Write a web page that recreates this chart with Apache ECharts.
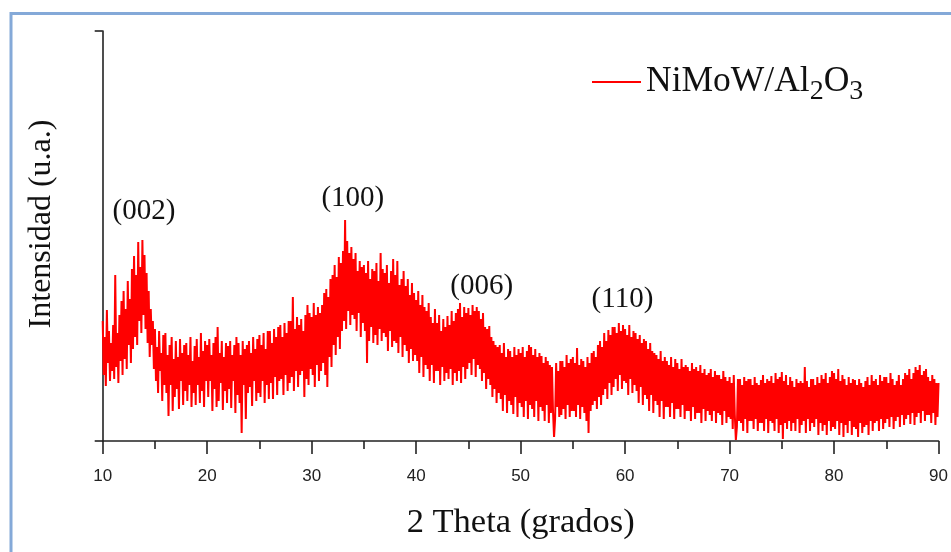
<!DOCTYPE html>
<html>
<head>
<meta charset="utf-8">
<script src="https://cdn.jsdelivr.net/npm/echarts@6/dist/echarts.min.js"></script>
<style>
  html, body { margin: 0; padding: 0; background: #fff; }
  #chart { width: 951px; height: 552px; }
</style>
</head>
<body>
<div id="chart"></div>
<script>
// XRD pattern of the NiMoW/Al2O3 catalyst, 2θ from 10° to 90° in 0.1° steps
const seriesName = 'NiMoW/Al2O3';
const thetaStart = 10;
const thetaStep = 0.1;

// Intensity (arbitrary units), one row per degree
const intensity = [
  120, 66, 104, 55, 131, 78, 110, 60, 98, 70,
  116, 62, 166, 74, 108, 58, 126, 80, 140, 66,
  150, 82, 132, 72, 160, 96, 142, 78, 172, 92,
  185, 104, 166, 96, 199, 120, 174, 108, 201, 126,
  186, 112, 168, 98, 150, 84, 132, 96, 120, 72,
  112, 60, 94, 48, 110, 70, 88, 40, 106, 56,
  108, 48, 86, 25, 96, 56, 104, 30, 82, 44,
  100, 52, 84, 32, 102, 60, 88, 36, 96, 50,
  98, 40, 86, 56, 104, 34, 80, 48, 95, 36,
  102, 56, 84, 38, 108, 50, 90, 34, 100, 60,
  96, 44, 102, 60, 86, 30, 98, 52, 104, 34,
  114, 40, 88, 58, 100, 31, 84, 50, 98, 38,
  95, 52, 100, 33, 86, 60, 96, 28, 104, 46,
  98, 38, 86, 8, 100, 56, 92, 22, 96, 48,
  100, 54, 88, 35, 104, 60, 92, 40, 102, 48,
  106, 44, 96, 60, 108, 38, 92, 56, 110, 42,
  110, 58, 98, 42, 112, 64, 104, 46, 114, 60,
  116, 62, 104, 46, 118, 66, 108, 50, 120, 58,
  120, 64, 144, 50, 112, 70, 124, 54, 116, 66,
  122, 70, 110, 44, 126, 62, 136, 56, 128, 72,
  124, 66, 138, 54, 126, 76, 134, 60, 128, 70,
  136, 78, 148, 66, 152, 54, 144, 84, 162, 74,
  166, 96, 176, 86, 164, 104, 184, 92, 178, 110,
  190, 120, 221, 112, 200, 130, 188, 116, 194, 126,
  182, 122, 188, 110, 170, 128, 180, 104, 174, 118,
  176, 110, 168, 78, 180, 100, 162, 114, 172, 98,
  170, 106, 178, 96, 160, 112, 188, 100, 172, 108,
  168, 104, 176, 90, 158, 110, 170, 94, 182, 100,
  166, 98, 180, 88, 156, 104, 162, 84, 170, 96,
  155, 90, 162, 78, 146, 92, 158, 80, 148, 86,
  141, 80, 150, 68, 136, 84, 146, 64, 134, 76,
  130, 72, 138, 60, 124, 76, 118, 58, 132, 70,
  118, 70, 126, 56, 110, 74, 122, 60, 114, 68,
  125, 62, 116, 72, 130, 56, 120, 68, 128, 60,
  132, 70, 138, 58, 124, 74, 134, 62, 128, 72,
  133, 78, 126, 66, 136, 82, 130, 64, 134, 76,
  130, 72, 122, 60, 128, 68, 114, 52, 112, 62,
  115, 56, 104, 44, 100, 52, 96, 38, 94, 48,
  96, 42, 88, 30, 98, 46, 84, 28, 92, 40,
  90, 36, 84, 27, 94, 44, 86, 24, 92, 38,
  88, 34, 94, 24, 84, 40, 90, 22, 96, 36,
  94, 32, 86, 24, 92, 40, 84, 20, 88, 34,
  85, 30, 78, 20, 84, 36, 80, 18, 76, 28,
  74, 30, 4, 22, 78, 34, 70, 24, 80, 26,
  80, 32, 74, 22, 86, 36, 78, 24, 82, 30,
  84, 30, 78, 24, 93, 36, 76, 22, 82, 34,
  80, 28, 74, 20, 84, 8, 78, 30, 88, 36,
  90, 40, 84, 32, 96, 44, 100, 36, 94, 46,
  108, 52, 100, 42, 111, 58, 106, 46, 114, 54,
  114, 62, 108, 50, 118, 66, 110, 52, 116, 60,
  112, 58, 106, 46, 116, 62, 104, 48, 110, 56,
  108, 50, 102, 38, 106, 54, 98, 36, 102, 46,
  100, 42, 92, 30, 98, 46, 90, 28, 88, 40,
  86, 36, 82, 24, 90, 40, 80, 22, 84, 34,
  80, 34, 76, 24, 84, 38, 74, 22, 82, 32,
  78, 32, 72, 24, 82, 36, 74, 22, 76, 30,
  74, 30, 70, 20, 78, 34, 72, 22, 74, 28,
  70, 28, 76, 18, 68, 32, 72, 20, 66, 30,
  68, 26, 72, 20, 64, 30, 70, 18, 66, 28,
  66, 26, 62, 16, 70, 30, 64, 18, 60, 24,
  64, 22, 58, 12, 66, 26, 1, 14, 62, 20,
  62, 18, 56, 10, 64, 22, 60, 8, 62, 20,
  62, 20, 56, 12, 64, 22, 58, 10, 56, 18,
  61, 18, 66, 10, 58, 22, 62, 8, 60, 20,
  65, 18, 58, 10, 68, 22, 62, 8, 64, 16,
  69, 2, 60, 18, 66, 12, 56, 20, 64, 10,
  60, 18, 54, 10, 62, 22, 58, 8, 60, 16,
  58, 20, 74, 8, 60, 22, 54, 10, 62, 18,
  62, 14, 56, 22, 64, 6, 58, 18, 66, 10,
  62, 16, 68, 6, 58, 20, 64, 10, 70, 14,
  68, 12, 62, 20, 72, 6, 60, 18, 66, 4,
  62, 16, 56, 8, 64, 20, 58, 6, 62, 14,
  61, 12, 56, 4, 62, 18, 58, 8, 54, 14,
  60, 16, 64, 6, 56, 20, 66, 10, 60, 18,
  62, 20, 56, 10, 66, 22, 60, 12, 64, 18,
  64, 22, 58, 14, 68, 24, 62, 12, 56, 20,
  60, 24, 66, 14, 56, 26, 62, 16, 68, 22,
  66, 26, 72, 17, 62, 28, 68, 16, 74, 24,
  71, 28, 76, 18, 66, 30, 70, 20, 72, 26,
  64, 26, 60, 18, 66, 28, 62, 16, 58, 24,
  58
];

// Reflection labels (Miller indices) and where they sit
const peakLabels = ['(002)', '(100)', '(006)', '(110)'];
const peakTheta = [13.95, 33.94, 46.27, 59.75];
const peakLabelY = [230, 243, 155, 142];

// Axis ranges
const thetaMin = 10, thetaMax = 90, thetaInterval = 10;
const intensityMax = 410;

const points = intensity.map((v, i) => [+(thetaStart + i * thetaStep).toFixed(1), v]);
const peakPoints = peakLabels.map((t, i) => ({ name: t, value: [peakTheta[i], peakLabelY[i]] }));

const serif = '"Liberation Serif", "Times New Roman", serif';
const sans = '"Liberation Sans", Arial, sans-serif';
const axisColor = '#222';

const chart = echarts.init(document.getElementById('chart'), null, { renderer: 'canvas' });
chart.setOption({
  animation: false,
  backgroundColor: '#fff',
  grid: { left: 102.7, right: 11.7, top: 31, bottom: 111, containLabel: false },
  legend: {
    left: 592,
    top: 64,
    padding: 0,
    itemWidth: 49,
    itemHeight: 2,
    itemGap: 0,
    data: [{ name: seriesName, icon: 'rect' }],
    formatter: () => '{a|NiMoW/Al}{s|2}{a|O}{s|3}',
    textStyle: {
      rich: {
        a: { fontFamily: serif, fontSize: 35.5, color: '#111', verticalAlign: 'top', lineHeight: 36 },
        s: { fontFamily: serif, fontSize: 28, color: '#111', verticalAlign: 'top', lineHeight: 36, padding: [14, 0, 0, 0] }
      }
    }
  },
  xAxis: {
    type: 'value',
    min: thetaMin,
    max: thetaMax,
    interval: thetaInterval,
    name: '2 Theta (grados)',
    nameLocation: 'middle',
    nameGap: 64,
    nameTextStyle: { fontFamily: serif, fontSize: 34.5, color: '#111' },
    axisLine: { show: true, onZero: false, lineStyle: { color: axisColor, width: 1.6 } },
    axisTick: { show: true, inside: false, length: 13, lineStyle: { color: axisColor, width: 1.6 } },
    minorTick: { show: true, splitNumber: 2, length: 8, lineStyle: { color: axisColor, width: 1.6 } },
    axisLabel: { margin: 27, fontFamily: sans, fontSize: 17, color: '#222' },
    splitLine: { show: false },
    minorSplitLine: { show: false }
  },
  yAxis: {
    type: 'value',
    min: 0,
    max: intensityMax,
    interval: intensityMax,
    name: 'Intensidad (u.a.)',
    nameLocation: 'middle',
    nameRotate: 90,
    nameGap: 45,
    nameTextStyle: { fontFamily: serif, fontSize: 32, color: '#111', padding: [0, 0, 0, 24] },
    axisLine: { show: true, onZero: false, lineStyle: { color: axisColor, width: 1.6 } },
    axisTick: { show: true, inside: false, length: 8, lineStyle: { color: axisColor, width: 1.6 } },
    axisLabel: { show: false },
    splitLine: { show: false }
  },
  series: [
    {
      name: seriesName,
      type: 'line',
      data: points,
      showSymbol: false,
      symbol: 'none',
      lineStyle: { color: '#ff0000', width: 2 },
      itemStyle: { color: '#ff0000' },
      z: 2
    },
    {
      name: 'peaks',
      type: 'scatter',
      data: peakPoints,
      symbolSize: 0,
      silent: true,
      itemStyle: { opacity: 1 },
      label: {
        show: true,
        position: 'inside',
        formatter: '{b}',
        fontFamily: serif,
        fontSize: 29,
        color: '#111'
      },
      z: 3
    }
  ],
  graphic: [
    {
      type: 'rect',
      silent: true,
      shape: { x: 11, y: 13.5, width: 960, height: 560 },
      style: { fill: 'none', stroke: '#84a9d8', lineWidth: 3 },
      z: 10
    }
  ]
});
</script>
</body>
</html>
